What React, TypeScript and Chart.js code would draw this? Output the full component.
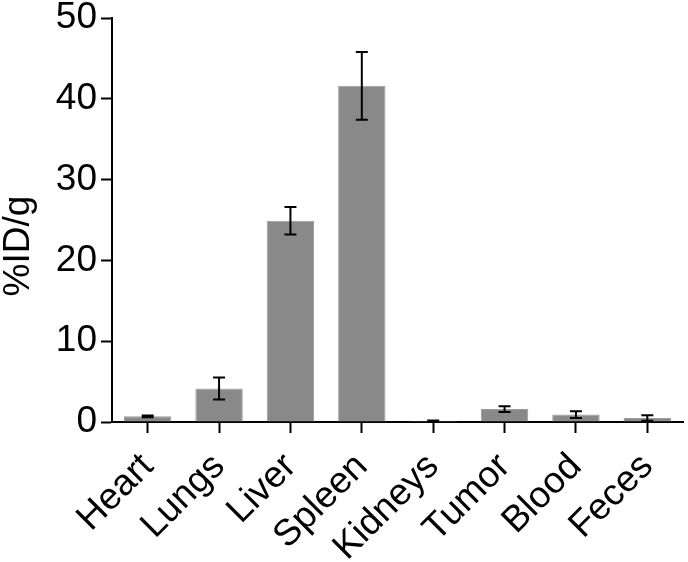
import React, { useEffect, useRef } from "react";
import { Chart, registerables } from "chart.js";

Chart.register(...registerables);

const categories = ["Heart", "Lungs", "Liver", "Spleen", "Kidneys", "Tumor", "Blood", "Feces"];
const values = [0.7, 4.15, 24.9, 41.6, 0.15, 1.6, 0.92, 0.5];
const errors = [0.1, 1.35, 1.7, 4.2, 0.05, 0.35, 0.42, 0.35];
const yTicks = [0, 10, 20, 30, 40, 50];
const yTitle = "%ID/g";

const FONT = "Arial, 'Liberation Sans', sans-serif";

const errorBarPlugin = {
  id: "errorBars",
  afterDatasetsDraw(chart: any) {
    const meta = chart.getDatasetMeta(0);
    const y = chart.scales.y;
    const ctx = chart.ctx;
    ctx.save();
    ctx.strokeStyle = "#000";
    ctx.lineWidth = 2;
    meta.data.forEach((bar: any, i: number) => {
      const x = bar.x;
      const top = y.getPixelForValue(values[i] + errors[i]);
      const bot = y.getPixelForValue(Math.max(0, values[i] - errors[i]));
      const cap = 6;
      ctx.beginPath();
      ctx.moveTo(x, top);
      ctx.lineTo(x, bot);
      ctx.moveTo(x - cap, top);
      ctx.lineTo(x + cap, top);
      ctx.moveTo(x - cap, bot);
      ctx.lineTo(x + cap, bot);
      ctx.stroke();
    });
    ctx.restore();
  },
};

const yTitlePlugin = {
  id: "yTitleCustom",
  afterDraw(chart: any) {
    const ctx = chart.ctx;
    ctx.save();
    ctx.translate(19, 246);
    ctx.rotate(-Math.PI / 2);
    ctx.font = `37px ${FONT}`;
    ctx.fillStyle = "#000";
    ctx.textAlign = "center";
    ctx.textBaseline = "middle";
    ctx.fillText(yTitle, 0, 0);
    ctx.restore();
  },
};

export default function App() {
  const ref = useRef<HTMLCanvasElement>(null);
  useEffect(() => {
    document.body.style.margin = "0";
    const chart = new Chart(ref.current as HTMLCanvasElement, {
      type: "bar",
      data: {
        labels: categories,
        datasets: [
          {
            data: values,
            backgroundColor: "#898989",
            borderColor: "#9a9a9a",
            borderWidth: 1,
            categoryPercentage: 1,
            barPercentage: 0.664,
          },
        ],
      },
      options: {
        animation: false,
        responsive: false,
        maintainAspectRatio: false,
        layout: { padding: { left: 0, right: 5, top: 18, bottom: 0 } },
        plugins: { legend: { display: false }, tooltip: { enabled: false } },
        scales: {
          x: {
            grid: {
              offset: false,
              drawOnChartArea: false,
              drawTicks: true,
              tickLength: 11,
              tickColor: "#000",
              tickWidth: 2,
            },
            border: { color: "#000", width: 2 },
            ticks: {
              color: "#000",
              font: { family: FONT, size: 37 },
              minRotation: 45,
              maxRotation: 45,
              padding: 12,
              autoSkip: false,
            },
            afterFit(s: any) {
              s.height = 140;
              s.paddingLeft = 0;
              s.paddingRight = 0;
            },
          },
          y: {
            min: 0,
            max: 50,
            afterBuildTicks(s: any) {
              s.ticks = yTicks.map((v) => ({ value: v }));
            },
            grid: {
              drawOnChartArea: false,
              drawTicks: true,
              tickLength: 11,
              tickColor: "#000",
              tickWidth: 2,
            },
            border: { color: "#000", width: 2 },
            ticks: {
              color: "#000",
              font: { family: FONT, size: 37 },
              padding: 4,
            },
            afterFit(s: any) {
              s.width = 112;
              s.paddingTop = 0;
              s.paddingBottom = 0;
            },
          },
        },
      },
      plugins: [errorBarPlugin, yTitlePlugin],
    });
    return () => chart.destroy();
  }, []);
  return (
    <div style={{ position: "absolute", left: 0, top: 0, width: 688, height: 562 }}>
      <canvas ref={ref} width={688} height={562} style={{ width: 688, height: 562 }} />
    </div>
  );
}
